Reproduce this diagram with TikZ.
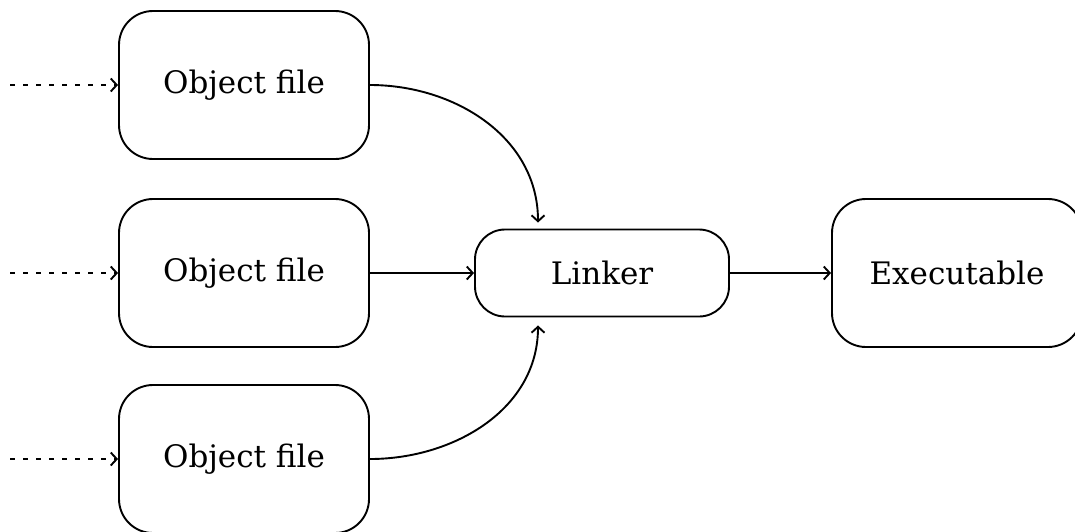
\documentclass[tikz,border=0pt]{standalone}
\usepackage{fontspec}
\setmainfont{DejaVu Serif}
\usetikzlibrary{arrows.meta}
\begin{document}
\begin{tikzpicture}[x=1pt,y=-1pt,
  box/.style={draw,line width=1.9pt,rounded corners=34pt,minimum width=250pt,minimum height=148pt,inner sep=0pt,font=\fontsize{31}{37}\selectfont},
  smallbox/.style={box,minimum width=254pt,minimum height=87pt,rounded corners=30pt},
  conn/.style={line width=1.9pt,-{Straight Barb[length=6pt,width=13pt,line width=1.9pt]}},
  dotconn/.style={conn,dash pattern=on 5pt off 8pt}]
\useasboundingbox (0,0) rectangle (1075,531);
\begin{scope}
\clip (0,0) rectangle (1075,531);
\node[box] (o1) at (244,85) {Object file};
\node[box] (o2) at (244,273) {Object file};
\node[box] (o3) at (244,459) {Object file};
\node[smallbox] (lk) at (602,273) {Linker};
\node[box] (ex) at (957,273) {Executable};
\coordinate (s1) at (10,85);
\coordinate (s2) at (10,273);
\coordinate (s3) at (10,459);
\end{scope}
\draw[dotconn] (s1) -- (o1.west);
\draw[dotconn] (s2) -- (o2.west);
\draw[dotconn] (s3) -- (o3.west);
\draw[conn] (o1.east) to[out=0,in=90] ([xshift=-64pt,yshift=6pt]lk.north);
\draw[conn] (o3.east) to[out=0,in=-90] ([xshift=-64pt,yshift=-8pt]lk.south);
\draw[conn] (o2.east) -- (lk.west);
\draw[conn] (lk.east) -- (ex.west);
\end{tikzpicture}
\end{document}
